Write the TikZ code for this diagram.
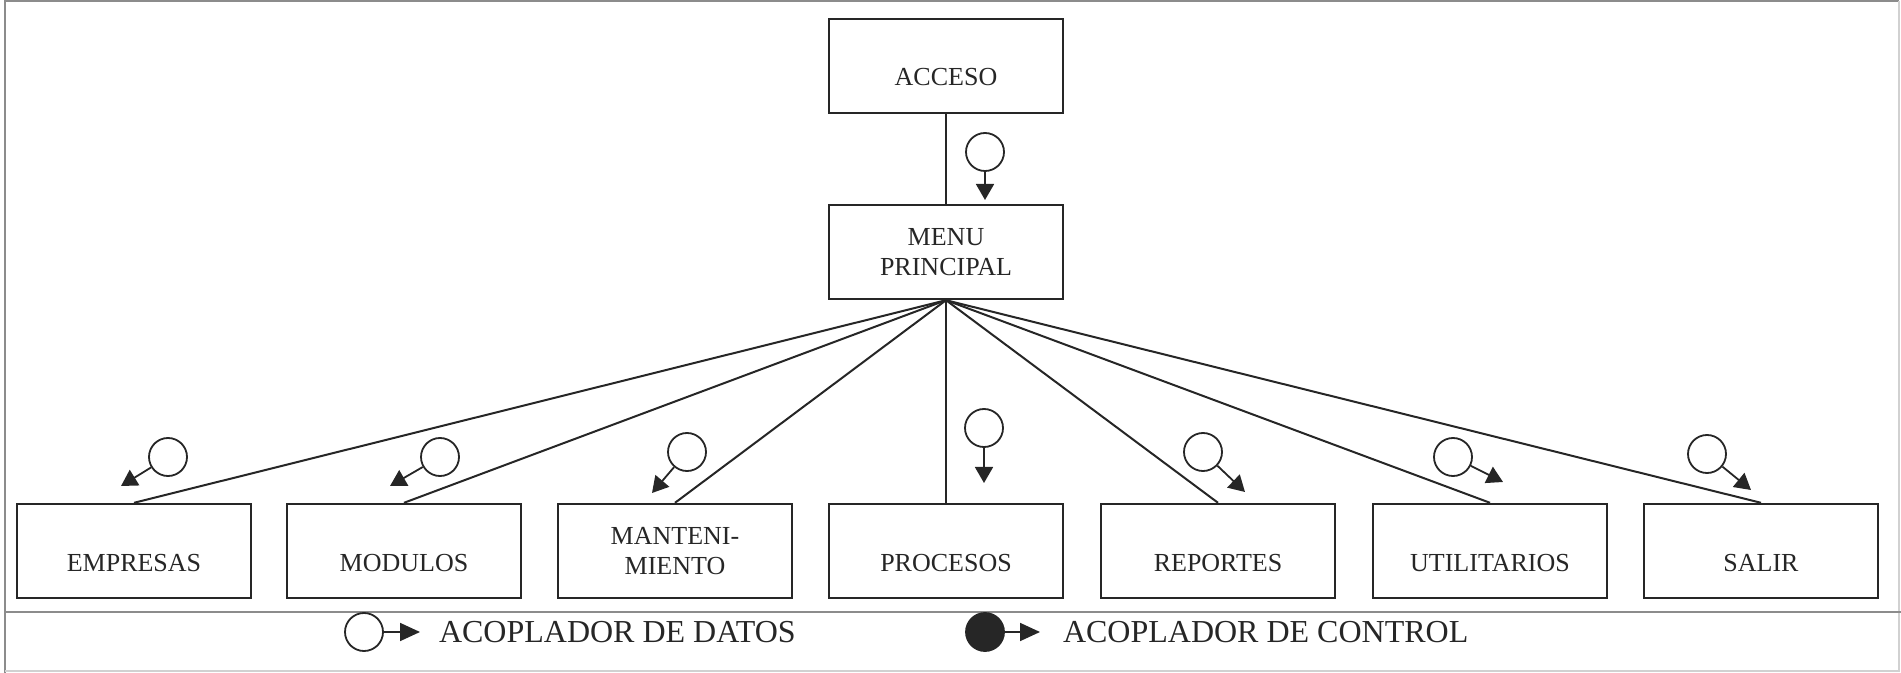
\documentclass[tikz,border=0pt]{standalone}
\usepackage{fontspec}
\setmainfont{Liberation Serif}
\usepackage{tikz}
\usetikzlibrary{arrows.meta}
\definecolor{lnc}{HTML}{262626}
\definecolor{frm}{HTML}{8C8C8C}

\begin{document}
\begin{tikzpicture}[x=0.5pt, y=-0.5pt, color=lnc, line width=1,
		box/.style={draw, line width=1.2pt, minimum width=117pt, minimum height=47pt, inner sep=0pt, align=center, font=\fontsize{13}{15}\selectfont},
		oneline/.style={text height=20pt, text depth=0pt},
		cpl/.style={draw, circle, line width=0.9pt, minimum size=19pt, inner sep=0pt},
		cplarr/.style={line width=0.9pt, -{Triangle[length=8pt, width=9pt]}},
		leyenda/.style={anchor=west, inner sep=0pt, font=\fontsize{16}{19}\selectfont}]
		\useasboundingbox (0,0) rectangle (1901,673);
		% marco
		\draw[frm, line width=0.8pt] (5,673) -- (5,1) -- (1899,1);
		\draw[frm!40, line width=0.6pt] (1899,1) -- (1899,671) -- (5,671);
		\draw[frm, line width=0.8pt] (5,612) -- (1901,612);
		% modulos
		\node[box, oneline] (acceso) at (946,66) {ACCESO};
		\node[box] (menu) at (946,252) {MENU\\PRINCIPAL};
		\node[box, oneline] (empresas) at (134,551) {EMPRESAS};
		\node[box, oneline] (modulos) at (404,551) {MODULOS};
		\node[box] (mant) at (675,551) {MANTENI-\\MIENTO};
		\node[box, oneline] (procesos) at (946,551) {PROCESOS};
		\node[box, oneline] (reportes) at (1218,551) {REPORTES};
		\node[box, oneline] (utilitarios) at (1490,551) {UTILITARIOS};
		\node[box, oneline] (salir) at (1761,551) {SALIR};
		% conexiones
		\draw (acceso.south) -- (menu.north);
		\draw (menu.south) -- (empresas.north);
		\draw (menu.south) -- (modulos.north);
		\draw (menu.south) -- (mant.north);
		\draw (menu.south) -- (procesos.north);
		\draw (menu.south) -- (reportes.north);
		\draw (menu.south) -- (utilitarios.north);
		\draw (menu.south) -- (salir.north);
		% acopladores
		\node[cpl] (cAcc) at (985,152) {};
		\coordinate (tAcc) at (985,200);
		\draw[cplarr] (cAcc) -- (tAcc);
		\node[cpl] (cEmp) at (168,457) {};
		\coordinate (tEmp) at (121,486);
		\draw[cplarr] (cEmp) -- (tEmp);
		\node[cpl] (cMod) at (440,457) {};
		\coordinate (tMod) at (390,486);
		\draw[cplarr] (cMod) -- (tMod);
		\node[cpl] (cMan) at (687,452) {};
		\coordinate (tMan) at (652,493);
		\draw[cplarr] (cMan) -- (tMan);
		\node[cpl] (cPro) at (984,428) {};
		\coordinate (tPro) at (984,483);
		\draw[cplarr] (cPro) -- (tPro);
		\node[cpl] (cRep) at (1203,452) {};
		\coordinate (tRep) at (1245,492);
		\draw[cplarr] (cRep) -- (tRep);
		\node[cpl] (cUti) at (1453,457) {};
		\coordinate (tUti) at (1503,482);
		\draw[cplarr] (cUti) -- (tUti);
		\node[cpl] (cSal) at (1707,454) {};
		\coordinate (tSal) at (1751,490);
		\draw[cplarr] (cSal) -- (tSal);
		% leyenda
		\node[cpl] (datos) at (364,632) {};
		\coordinate (tDatos) at (420,632);
		\draw[cplarr, -{Triangle[length=10pt, width=9pt]}] (datos) -- (tDatos);
		\node[leyenda] (txtDatos) at (438,632) {ACOPLADOR DE DATOS};
		\node[cpl, fill=lnc] (control) at (985,632) {};
		\coordinate (tControl) at (1040,632);
		\draw[cplarr, -{Triangle[length=10pt, width=9pt]}] (control) -- (tControl);
		\node[leyenda] (txtControl) at (1062,632) {ACOPLADOR DE CONTROL};
	\end{tikzpicture}
\end{document}
